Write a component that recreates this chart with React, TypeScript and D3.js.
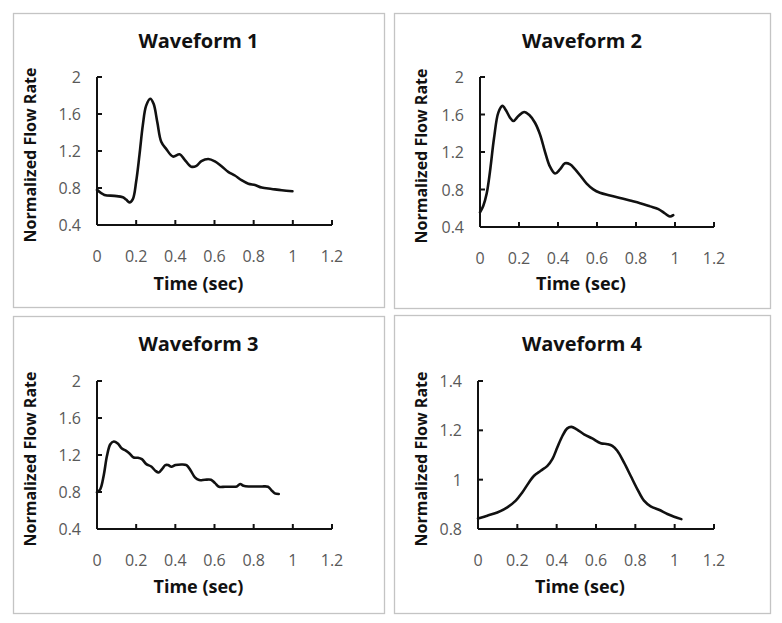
import React from "react";
import * as d3 from "d3";

// ---- Data ----
const xTicks = [0, 0.2, 0.4, 0.6, 0.8, 1, 1.2];
const yTicksA = [0.4, 0.8, 1.2, 1.6, 2];
const yTicksB = [0.8, 1, 1.2, 1.4];

const titles = ["Waveform 1", "Waveform 2", "Waveform 3", "Waveform 4"];
const xLabel = "Time (sec)";
const yLabel = "Normalized Flow Rate";

const w1t = [0, 0.038, 0.089, 0.132, 0.149, 0.166, 0.183, 0.2, 0.217, 0.234, 0.251, 0.272, 0.289, 0.308, 0.328, 0.354, 0.388, 0.422, 0.448, 0.482, 0.508, 0.533, 0.568, 0.602, 0.636, 0.67, 0.704, 0.738, 0.773, 0.807, 0.841, 0.892, 0.944, 0.998];
const w1v = [0.78, 0.725, 0.715, 0.7, 0.675, 0.645, 0.68, 0.87, 1.16, 1.48, 1.69, 1.765, 1.71, 1.51, 1.3, 1.22, 1.14, 1.165, 1.105, 1.03, 1.04, 1.09, 1.114, 1.088, 1.035, 0.975, 0.935, 0.885, 0.847, 0.832, 0.805, 0.79, 0.775, 0.765];

const w2t = [0, 0.017, 0.034, 0.051, 0.072, 0.094, 0.115, 0.133, 0.154, 0.171, 0.197, 0.226, 0.253, 0.282, 0.308, 0.333, 0.359, 0.385, 0.41, 0.436, 0.462, 0.487, 0.513, 0.547, 0.581, 0.615, 0.667, 0.718, 0.769, 0.821, 0.872, 0.915, 0.949, 0.974, 0.991];
const w2v = [0.555, 0.627, 0.754, 0.988, 1.349, 1.62, 1.692, 1.645, 1.566, 1.53, 1.584, 1.627, 1.595, 1.512, 1.386, 1.205, 1.043, 0.97, 1.014, 1.079, 1.068, 1.017, 0.952, 0.862, 0.801, 0.765, 0.736, 0.71, 0.682, 0.653, 0.62, 0.591, 0.544, 0.512, 0.526];

const w3t = [0, 0.017, 0.034, 0.051, 0.068, 0.086, 0.106, 0.127, 0.149, 0.166, 0.187, 0.209, 0.229, 0.252, 0.277, 0.298, 0.315, 0.332, 0.349, 0.363, 0.38, 0.401, 0.432, 0.457, 0.479, 0.5, 0.522, 0.551, 0.582, 0.603, 0.623, 0.654, 0.688, 0.714, 0.731, 0.748, 0.774, 0.808, 0.842, 0.873, 0.89, 0.908, 0.928];
const w3v = [0.796, 0.832, 0.976, 1.191, 1.317, 1.346, 1.324, 1.27, 1.245, 1.217, 1.173, 1.17, 1.155, 1.101, 1.076, 1.03, 1.011, 1.047, 1.091, 1.091, 1.073, 1.091, 1.098, 1.091, 1.03, 0.958, 0.929, 0.932, 0.932, 0.896, 0.857, 0.857, 0.857, 0.86, 0.886, 0.868, 0.86, 0.86, 0.86, 0.857, 0.821, 0.785, 0.778];

const w4t = [0, 0.047, 0.098, 0.149, 0.192, 0.225, 0.259, 0.285, 0.319, 0.353, 0.378, 0.403, 0.429, 0.454, 0.475, 0.502, 0.539, 0.581, 0.624, 0.658, 0.683, 0.708, 0.742, 0.776, 0.81, 0.844, 0.878, 0.92, 0.963, 0.997, 1.034];
const w4v = [0.843, 0.854, 0.867, 0.888, 0.915, 0.948, 0.989, 1.016, 1.036, 1.056, 1.083, 1.13, 1.177, 1.208, 1.214, 1.204, 1.184, 1.167, 1.148, 1.144, 1.137, 1.117, 1.07, 1.016, 0.962, 0.915, 0.892, 0.878, 0.861, 0.85, 0.84];

const seriesT = [w1t, w2t, w3t, w4t];
const seriesV = [w1v, w2v, w3v, w4v];
const yTickSets = [yTicksA, yTicksA, yTicksA, yTicksB];

// ---- Layout ----
type Layout = {
  box: [number, number, number, number];
  left: number; right: number; top: number; bottom: number;
  titleY: number; xLabelY: number; yLabelX: number;
};
const layouts: Layout[] = [
  { box: [13, 13, 371, 294], left: 97, right: 332, top: 77, bottom: 225, titleY: 40, xLabelY: 283, yLabelX: 30 },
  { box: [394, 13, 376, 295], left: 480, right: 714, top: 77, bottom: 227, titleY: 40, xLabelY: 283, yLabelX: 421 },
  { box: [13, 316, 371, 297], left: 97, right: 332, top: 381, bottom: 529, titleY: 343, xLabelY: 586, yLabelX: 30 },
  { box: [394, 315, 376, 298], left: 478, right: 714, top: 381, bottom: 529, titleY: 343, xLabelY: 586, yLabelX: 421 },
];

const FONT = "'Open Sans', Lato, sans-serif";
const fmt = (v: number) => String(+v.toFixed(1));

function Panel({ i }: { i: number }) {
  const L = layouts[i];
  const yt = yTickSets[i];
  const x = d3.scaleLinear().domain([0, 1.2]).range([L.left, L.right]);
  const y = d3.scaleLinear().domain([yt[0], yt[yt.length - 1]]).range([L.bottom, L.top]);
  const pts: [number, number][] = seriesT[i].map((t, k) => [t, seriesV[i][k]]);
  const line = d3.line<[number, number]>()
    .x((d) => x(d[0]))
    .y((d) => y(d[1]))
    .curve(d3.curveCatmullRom.alpha(0.5));
  const [bx, by, bw, bh] = L.box;
  const cx = bx + bw / 2;
  const cy = (L.top + L.bottom) / 2 + 4;
  return (
    <g>
      <rect x={bx + 0.5} y={by + 0.5} width={bw} height={bh} fill="#fff" stroke="#c4c4c4" strokeWidth={1.3} />
      <text x={cx} y={L.titleY} textAnchor="middle" dominantBaseline="central" fontFamily={FONT} fontWeight={700} fontSize={20} fill="#111">
        {titles[i]}
      </text>
      {/* axes */}
      <line x1={L.left} x2={L.right} y1={L.bottom} y2={L.bottom} stroke="#111" strokeWidth={2} />
      <line x1={L.left} x2={L.left} y1={L.top} y2={L.bottom} stroke="#111" strokeWidth={2} />
      {xTicks.map((t) => (
        <g key={"x" + t}>
          <line x1={x(t)} x2={x(t)} y1={L.bottom} y2={L.bottom - 5} stroke="#111" strokeWidth={2} />
          <text x={x(t)} y={L.bottom + 31} textAnchor="middle" dominantBaseline="central" fontFamily={FONT} fontSize={16} fill="#595959">
            {fmt(t)}
          </text>
        </g>
      ))}
      {yt.map((t) => (
        <g key={"y" + t}>
          <line x1={L.left} x2={L.left + 5} y1={y(t)} y2={y(t)} stroke="#111" strokeWidth={2} />
          <text x={L.left - 16} y={y(t)} textAnchor="end" dominantBaseline="central" fontFamily={FONT} fontSize={16} fill="#595959">
            {fmt(t)}
          </text>
        </g>
      ))}
      <path d={line(pts) || ""} fill="none" stroke="#111" strokeWidth={2.6} strokeLinejoin="round" strokeLinecap="round" />
      <text x={(L.left + L.right) / 2 - 16} y={L.xLabelY} textAnchor="middle" dominantBaseline="central" fontFamily={FONT} fontWeight={700} fontSize={18} fill="#111">
        {xLabel}
      </text>
      <text transform={`translate(${L.yLabelX},${cy}) rotate(-90)`} textAnchor="middle" dominantBaseline="central" fontFamily={FONT} fontWeight={700} fontSize={16} fill="#111">
        {yLabel}
      </text>
    </g>
  );
}

export default function App() {
  return (
    <svg width={782} height={623} style={{ position: "absolute", left: 0, top: 0, background: "#fff" }}>
      <rect x={0} y={0} width={782} height={623} fill="#fff" />
      {[0, 1, 2, 3].map((i) => (
        <Panel key={i} i={i} />
      ))}
    </svg>
  );
}
